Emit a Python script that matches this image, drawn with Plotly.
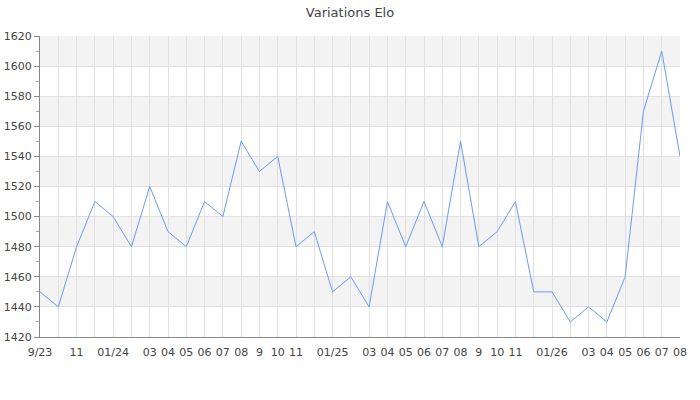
import plotly.graph_objects as go

# one point per month, Sep 2023 -> Aug 2026
months = ['2023-09', '2023-10', '2023-11', '2023-12',
          '2024-01', '2024-02', '2024-03', '2024-04', '2024-05', '2024-06',
          '2024-07', '2024-08', '2024-09', '2024-10', '2024-11', '2024-12',
          '2025-01', '2025-02', '2025-03', '2025-04', '2025-05', '2025-06',
          '2025-07', '2025-08', '2025-09', '2025-10', '2025-11', '2025-12',
          '2026-01', '2026-02', '2026-03', '2026-04', '2026-05', '2026-06',
          '2026-07', '2026-08']
elo = [1450, 1440, 1480, 1510,
       1500, 1480, 1520, 1490, 1480, 1510,
       1500, 1550, 1530, 1540, 1480, 1490,
       1450, 1460, 1440, 1510, 1480, 1510,
       1480, 1550, 1480, 1490, 1510, 1450,
       1450, 1430, 1440, 1430, 1460, 1570,
       1610, 1540]
# labels shown under the axis ('' = gridline only)
tick_labels = ['9/23', '', '11', '',
               '01/24', '', '03', '04', '05', '06',
               '07', '08', '9', '10', '11', '',
               '01/25', '', '03', '04', '05', '06',
               '07', '08', '9', '10', '11', '',
               '01/26', '', '03', '04', '05', '06',
               '07', '08']
# shaded horizontal bands (low, high)
bands = [(1440, 1460), (1480, 1500), (1520, 1540), (1560, 1580), (1600, 1620)]

fig = go.Figure()
fig.add_trace(go.Scatter(x=months, y=elo, mode='lines',
                         line=dict(color='#6b9bf2', width=1),
                         hoverinfo='x+y'))

for lo, hi in bands:
    fig.add_shape(type='rect', xref='paper', yref='y', x0=0, x1=1, y0=lo, y1=hi,
                  fillcolor='#f3f3f3', line_width=0, layer='below')

fig.update_layout(
    title=dict(text='Variations Elo', x=0.5, xanchor='center', y=0.97, yanchor='middle',
               font=dict(size=13, color='#444'), automargin=False),
    width=700, height=400,
    margin=dict(l=40, r=20, t=36, b=63, autoexpand=False),
    paper_bgcolor='white', plot_bgcolor='white',
    font=dict(family='DejaVu Sans', size=11, color='#444'),
    showlegend=False,
)
fig.update_xaxes(type='category', tickmode='array', tickvals=months, ticktext=tick_labels,
                 showgrid=True, gridcolor='#e0e0e0', gridwidth=1,
                 showline=True, linecolor='#888', linewidth=1,
                 ticks='', tickangle=0, ticklabelstandoff=5,
                 range=[0, len(months) - 1], zeroline=False, automargin=False)
fig.update_yaxes(range=[1420, 1620], dtick=20, tick0=1420,
                 showgrid=True, gridcolor='#e0e0e0', gridwidth=1,
                 showline=True, linecolor='#888', linewidth=1,
                 ticks='outside', ticklen=5, tickcolor='#888',
                 minor=dict(dtick=10, ticks='outside', ticklen=3, tickcolor='#aaa', showgrid=False),
                 zeroline=False, automargin=False)

# drop the default 8px body margin so the chart sits at the window corner
fig.write_html("out.html", config=dict(displayModeBar=False),
               post_script="document.body.style.margin='0';")
